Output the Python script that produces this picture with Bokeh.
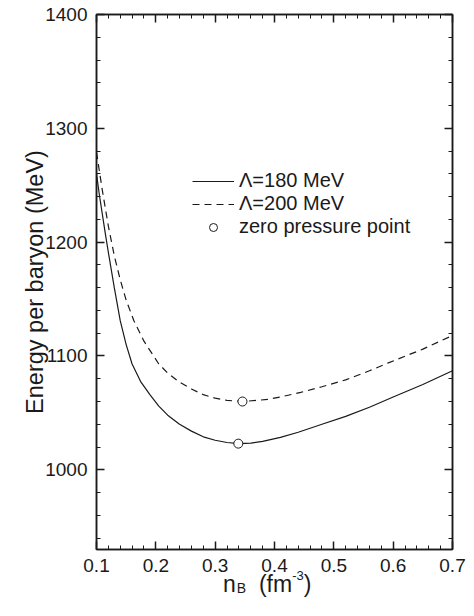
from bokeh.plotting import figure
from bokeh.layouts import column
from bokeh.models import (Range1d, LinearAxis, FixedTicker, Legend, LegendItem,
                          CustomJSTickFormatter, Div)
from bokeh.embed import file_html
from bokeh.resources import INLINE

# ---- data ----
nb_180 = [0.100, 0.105, 0.110, 0.115, 0.120, 0.130, 0.140, 0.150, 0.160, 0.175, 0.190,
          0.205, 0.220, 0.240, 0.260, 0.280, 0.300, 0.320, 0.340, 0.360, 0.380, 0.410,
          0.440, 0.480, 0.520, 0.560, 0.600, 0.650, 0.700]
e_180 = [1260, 1241, 1224, 1207, 1191, 1160, 1131, 1110, 1093, 1077, 1066,
         1056, 1048, 1040, 1034, 1029, 1026, 1024, 1023, 1023.5, 1025, 1028.5,
         1033, 1040, 1047, 1055, 1064, 1075, 1087]

nb_200 = [0.100, 0.110, 0.120, 0.130, 0.140, 0.150, 0.163, 0.180, 0.190, 0.205, 0.220,
          0.240, 0.260, 0.280, 0.300, 0.320, 0.346, 0.370, 0.390, 0.410, 0.444, 0.480,
          0.520, 0.560, 0.592, 0.650, 0.700]
e_200 = [1279, 1245, 1214, 1188, 1167, 1149, 1131, 1113, 1105, 1093, 1085,
         1077, 1071, 1066, 1063, 1061, 1060, 1061, 1062, 1064, 1068, 1073,
         1079, 1087, 1094, 1106, 1118]

zp_nb = [0.339, 0.346]
zp_e = [1023, 1060]

x_major = [0.1, 0.2, 0.3, 0.4, 0.5, 0.6, 0.7]
x_minor = [round(0.1 + 0.02 * i, 2) for i in range(31)]
y_major = [1000, 1100, 1200, 1300, 1400]
y_minor = list(range(940, 1401, 20))

labels = ["\u039b=180 MeV", "\u039b=200 MeV", "zero pressure point"]
y_title = "Energy per baryon (MeV)"

FONT = "Liberation Sans"
INK = "#1a1a1a"

p = figure(width=474, height=580, x_range=Range1d(0.1, 0.7), y_range=Range1d(930, 1400),
           output_backend="svg", toolbar_location=None, x_axis_type=None, y_axis_type=None,
           min_border_left=96, min_border_right=22, min_border_top=14, min_border_bottom=31)
p.grid.visible = False
p.outline_line_color = INK
p.outline_line_width = 1.5
p.background_fill_color = "white"


def style(ax, show_labels=True):
    ax.axis_line_color = INK
    ax.axis_line_width = 1.5
    ax.major_tick_in = 8
    ax.major_tick_out = 0
    ax.minor_tick_in = 4
    ax.minor_tick_out = 0
    ax.major_tick_line_color = INK
    ax.major_tick_line_width = 1.5
    ax.minor_tick_line_color = INK
    ax.minor_tick_line_width = 1
    ax.major_label_text_font = FONT
    ax.major_label_text_color = INK
    if show_labels:
        ax.major_label_text_font_size = "19px"
        ax.major_label_standoff = 9
    else:
        ax.formatter = CustomJSTickFormatter(code="return ''")
        ax.major_label_text_font_size = "0px"
        ax.major_label_standoff = 0


xb = LinearAxis(ticker=FixedTicker(ticks=x_major, minor_ticks=x_minor))
xt = LinearAxis(ticker=FixedTicker(ticks=x_major, minor_ticks=x_minor))
yl = LinearAxis(ticker=FixedTicker(ticks=y_major, minor_ticks=y_minor))
yr = LinearAxis(ticker=FixedTicker(ticks=y_major, minor_ticks=y_minor))
style(xb)
style(yl)
style(xt, False)
style(yr, False)
yl.axis_label = y_title
yl.axis_label_text_font = FONT
yl.axis_label_text_font_size = "23.5px"
yl.axis_label_text_font_style = "normal"
yl.axis_label_text_color = INK
yl.axis_label_standoff = -6
p.add_layout(xb, "below")
p.add_layout(xt, "above")
p.add_layout(yl, "left")
p.add_layout(yr, "right")

r1 = p.line(nb_180, e_180, line_color=INK, line_width=1.2)
r2 = p.line(nb_200, e_200, line_color=INK, line_width=1.2, line_dash="7 5")
r3 = p.scatter(zp_nb, zp_e, marker="circle", size=9, fill_color="white",
               line_color=INK, line_width=1)

legend = Legend(items=[LegendItem(label=labels[0], renderers=[r1]),
                       LegendItem(label=labels[1], renderers=[r2]),
                       LegendItem(label=labels[2], renderers=[r3])],
                location=(96, 311), padding=0, margin=0, border_line_color=None,
                background_fill_alpha=0, glyph_width=42, glyph_height=20, spacing=0,
                label_standoff=5, label_height=20, label_text_font=FONT,
                label_text_font_size="20px", label_text_color=INK)
p.add_layout(legend)

# x-axis title: n_B (fm^-3) as real HTML text below the plot
x_title_html = (
    '<div style="font-family:\'Liberation Sans\'; font-size:23px; line-height:26px; '
    'color:%s; white-space:nowrap; padding-left:223px;">'
    'n<span style="font-size:14px; position:relative; top:1px; margin-left:1px;">B</span>'
    '&nbsp;&nbsp;(fm<span style="font-size:13px; position:relative; top:-12px;">-3</span>)'
    '</div>' % INK
)
div = Div(text=x_title_html, width=474, height=36, margin=(-9, 0, 0, 0))

layout = column(p, div, spacing=0)
open("out.html", "w").write(file_html(layout, INLINE))
